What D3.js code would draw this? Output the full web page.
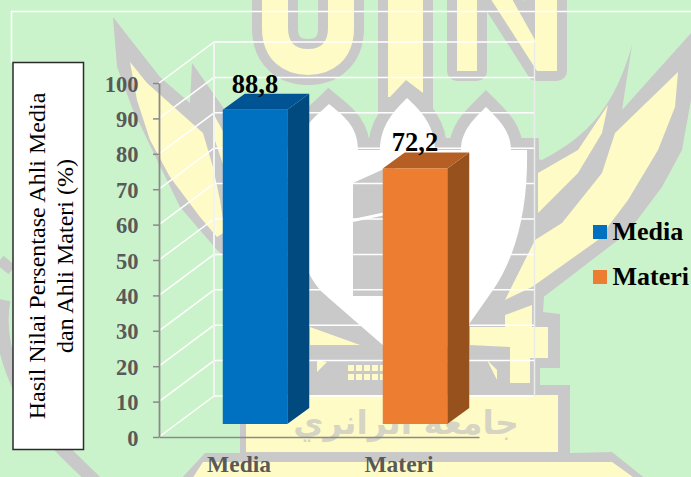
<!DOCTYPE html>
<html>
<head>
<meta charset="utf-8">
<script src="https://cdn.jsdelivr.net/npm/d3@7"></script>
<style>
html,body{margin:0;padding:0;background:#CBF3CB;overflow:hidden}
svg{display:block}
text{font-family:"Liberation Serif",serif}
</style>
</head>
<body>
<svg id="c" width="691" height="477"></svg>
<script>
const categories = ["Media", "Materi"];
const values = [88.8, 72.2];
const valueLabels = ["88,8", "72,2"];
const yTicks = [0, 10, 20, 30, 40, 50, 60, 70, 80, 90, 100];
const titleLines = ["Hasil Nilai Persentase Ahli Media", "dan Ahli Materi (%)"];
const frontColors = ["#0070C0", "#ED7D31"];
const topColors = ["#005494", "#B55F25"];
const sideColors = ["#004A80", "#97511C"];

const svg = d3.select("#c");
const GRAY = "#C9C9C9", YEL = "#FFFBC6", WHITE = "#FFFFFF";

/* ---------- watermark (decorative background logo) ---------- */
const wm = svg.append("g").attr("class", "watermark");
function shape(d, fill, stroke, sw, join) {
  wm.append("path").attr("d", d).attr("fill", fill || "none")
    .attr("stroke", stroke || "none").attr("stroke-width", sw || 0)
    .attr("stroke-linejoin", join || "round").attr("stroke-linecap", "butt")
    .attr("stroke-miterlimit", 6);
}
const shieldPath = "M287,150 L300,150 C300,125 318,115 329,104 C342,115 358,125 358,150 L380,150 C380,125 395,110 407,98 C420,110 435,125 435,150 L461,150 C461,130 475,118 486,107 C497,118 511,130 511,150 L527,150 C528,200 520,250 493,290 L453,347 L385,347 L323,293 C300,270 287,220 287,150 Z";
const uPath = "M275,-10 L275,28 C275,52 290,62 308,62 C326,62 341,52 341,28 L341,-10";
const nLeft = "M457,-10 L477,-10 L477,71 L457,71 Z";
const nDiag = "M485,-10 L507,-10 L535,40 L535,-10 L557,-10 L557,71 L537,71 Z";

// outer ring fragments on the left and bottom
shape("M0,260 L12,270", null, GRAY, 11);
shape("M4,300 C-4,340 14,400 65,452 L96,482", null, GRAY, 13);
// left wing
shape("M113,17 L160,77 L190,103 L192,63 L213,93 L225,110 L300,140 L300,300 L240,270 L217,250 L180,207 L157,160 L133,110 L117,67 Z", GRAY);
shape("M130,62 L147,83 L203,133 L213,167 L220,200 L225,232 L217,237 L200,217 L170,177 L150,140 L137,100 Z", YEL);
shape("M213,113 L225,135 L225,170 L213,135 Z", YEL);
// right wing
shape("M632,45 L622,110 L691,33 L691,100 L682,150 L662,187 L635,223 L618,240 L545,296 L500,300 L500,150 L542,160 C590,135 615,105 632,45 Z", GRAY);
// lower gray body and base
shape("M300,285 L545,285 L543,312 L560,314 L560,368 L540,368 L540,385 L570,385 L570,453 L612,452 L647,480 L180,480 L205,453 L240,453 L240,385 L300,385 Z", GRAY);
// letters U I N
shape(uPath, null, GRAY, 46);
shape(uPath, null, YEL, 26);
shape("M378,-5 L433,-5 L433,112 L378,112 Z", GRAY);
shape("M388,-5 L423,-5 L423,93 L406,80 L390,97 L388,97 Z", YEL);
shape(nLeft, GRAY, GRAY, 20);
shape(nDiag, GRAY, GRAY, 20);
shape(nLeft, YEL);
shape(nDiag, YEL);
// shield outline
shape(shieldPath, GRAY, GRAY, 24, "miter");
// yellow areas
shape("M608,105 L578,150 L538,173 L538,213 L578,173 L602,133 Z", YEL);
shape("M678,72 L615,133 L602,173 L562,223 L535,240 L525,260 L505,300 L532,287 L598,240 L628,200 L658,150 L675,107 Z", YEL);
shape("M246,395 L558,395 L558,452 L246,452 Z", YEL);
shape("M300,347 L510,347 L510,395 L300,395 Z", GRAY);
shape("M203,462 L612,462 L640,482 L190,482 Z", YEL);
shape("M470,327 L548,327 L548,358 L530,358 L530,383 L510,383 L510,347 L470,345 Z", YEL);
shape("M505,315 L532,305 L532,327 L505,327 Z", YEL);
shape("M310,327 L360,345 L310,345 Z", YEL);
shape("M317,360 L327,362 L317,372 Z", YEL);
shape("M487,360 L497,370 L497,380 Z", YEL);
// shield fill and the book inside it
shape(shieldPath, WHITE);
shape("M353,183 L395,164 L395,296 L353,296 Z", GRAY);
shape("M353,219 L395,210 L395,213 L353,222 Z", WHITE);
shape("M310,293 L323,293 L352,323 L310,323 Z", GRAY);
shape("M348,365h6v6h-6z M356,365h6v6h-6z M364,365h6v6h-6z M372,365h6v6h-6z M380,365h6v6h-6z M348,374h6v6h-6z M356,374h6v6h-6z M364,374h6v6h-6z M372,374h6v6h-6z M380,374h6v6h-6z", YEL);
wm.append("text").attr("x", 406).attr("y", 434).attr("text-anchor", "middle")
  .attr("direction", "rtl")
  .style("font-family", "'DejaVu Sans',sans-serif").style("font-weight", "bold")
  .style("font-size", "33px").attr("fill", "#D6D5C4").text("جامعة الرانري");

/* ---------- chart frame ---------- */
svg.append("path").attr("d", "M691,11.5 L11.5,11.5 L11.5,63").attr("fill", "none")
  .attr("stroke", "#fff").attr("stroke-width", 1.5);

/* ---------- scales ---------- */
const y = d3.scaleLinear().domain([0, 100]).range([437, 83]);
const x = d3.scaleBand().domain(categories).range([159, 479]).paddingInner(0.597).paddingOuter(0.2985);

// oblique 3D offsets: wall at full depth, bar front and back at part depth
const wall = { dx: 55, dy: -41 }, front = { dx: 16, dy: -13 }, back = { dx: 38, dy: -29 };

/* ---------- walls ---------- */
const grid = svg.append("g").attr("class", "grid");
grid.selectAll("line.h").data(yTicks).join("line").attr("class", "h")
  .attr("x1", 159 + wall.dx).attr("x2", 479 + wall.dx)
  .attr("y1", d => y(d) + wall.dy).attr("y2", d => y(d) + wall.dy)
  .attr("stroke", "#fff").attr("stroke-width", 1.5);
grid.selectAll("line.d").data(yTicks).join("line").attr("class", "d")
  .attr("x1", 159).attr("x2", 159 + wall.dx)
  .attr("y1", d => y(d)).attr("y2", d => y(d) + wall.dy)
  .attr("stroke", "#fff").attr("stroke-width", 1.5);
[159 + wall.dx, 479 + wall.dx + 0.5].forEach((vx, i) => {
  grid.append("line").attr("x1", vx).attr("x2", vx)
    .attr("y1", y(100) + wall.dy).attr("y2", y(0) + wall.dy)
    .attr("stroke", i ? "#E9EDE9" : "#F1F4F1").attr("stroke-width", i ? 1.5 : 2);
});

/* ---------- axes ---------- */
const gy = svg.append("g").attr("transform", "translate(159,0)")
  .call(d3.axisLeft(y).tickValues(yTicks).tickSizeInner(6).tickSizeOuter(0));
gy.select(".domain").attr("stroke", "#8A8A8A").attr("stroke-width", 1.8);
gy.selectAll(".tick line").attr("stroke", "#8A8A8A").attr("stroke-width", 1.5);
gy.selectAll(".tick text").attr("x", -20.5).attr("dy", "0.36em").attr("fill", "#595959")
  .style("font-family", "'Liberation Serif',serif").style("font-weight", "bold").style("font-size", "22.5px");

const gx = svg.append("g").attr("transform", "translate(0,437)")
  .call(d3.axisBottom(x).tickSize(0));
gx.select(".domain").attr("stroke", "#8A8A8A").attr("stroke-width", 1.5);
gx.selectAll(".tick text").attr("y", 35).attr("dy", 0).attr("fill", "#595959")
  .style("font-family", "'Liberation Serif',serif").style("font-weight", "bold").style("font-size", "23.5px");

/* ---------- bars ---------- */
const rows = categories.map((c, i) => ({ c, v: values[i], label: valueLabels[i], i }));
const bars = svg.append("g").selectAll("g").data(rows).join("g");
const bw = x.bandwidth();
const poly = pts => pts.map(p => p.join(",")).join(" ");
bars.append("polygon").attr("fill", d => sideColors[d.i]).attr("points", d => {
  const r = x(d.c) + front.dx + bw;
  return poly([[r, y(d.v) + front.dy], [x(d.c) + back.dx + bw, y(d.v) + back.dy],
               [x(d.c) + back.dx + bw, y(0) + back.dy], [r, y(0) + front.dy]]);
});
bars.append("polygon").attr("fill", d => topColors[d.i]).attr("points", d => {
  const l = x(d.c) + front.dx;
  return poly([[l, y(d.v) + front.dy], [x(d.c) + back.dx, y(d.v) + back.dy],
               [x(d.c) + back.dx + bw, y(d.v) + back.dy], [l + bw, y(d.v) + front.dy]]);
});
bars.append("rect").attr("fill", d => frontColors[d.i])
  .attr("x", d => x(d.c) + front.dx).attr("width", bw)
  .attr("y", d => y(d.v) + front.dy).attr("height", d => y(0) - y(d.v));
bars.append("text").attr("text-anchor", "middle")
  .attr("x", d => x(d.c) + front.dx + bw / 2)
  .attr("y", d => y(d.v) + back.dy - 1)
  .attr("fill", "#000").style("font-weight", "bold").style("font-size", "26.5px")
  .text(d => d.label);

/* ---------- y title box ---------- */
svg.append("rect").attr("x", 13).attr("y", 62.5).attr("width", 70.5).attr("height", 387)
  .attr("fill", "#fff").attr("stroke", "#2b2b2b").attr("stroke-width", 1.5);
const titleBase = [45, 73];
svg.selectAll("text.title").data(titleLines).join("text").attr("class", "title")
  .attr("transform", (d, i) => `translate(${titleBase[i]},256) rotate(-90)`)
  .attr("text-anchor", "middle").attr("fill", "#000").style("font-size", "24px")
  .text(d => d);

/* ---------- legend ---------- */
const legendY = d3.scalePoint().domain(categories).range([225, 270]);
const lg = svg.append("g").selectAll("g").data(rows).join("g");
lg.append("rect").attr("x", 593).attr("width", 14).attr("height", 14)
  .attr("y", d => legendY(d.c)).attr("fill", d => frontColors[d.i]);
lg.append("text").attr("x", 612.5).attr("y", d => legendY(d.c) + 15)
  .attr("fill", "#000").style("font-weight", "bold").style("font-size", "26px")
  .text(d => d.c);
</script>
</body>
</html>
